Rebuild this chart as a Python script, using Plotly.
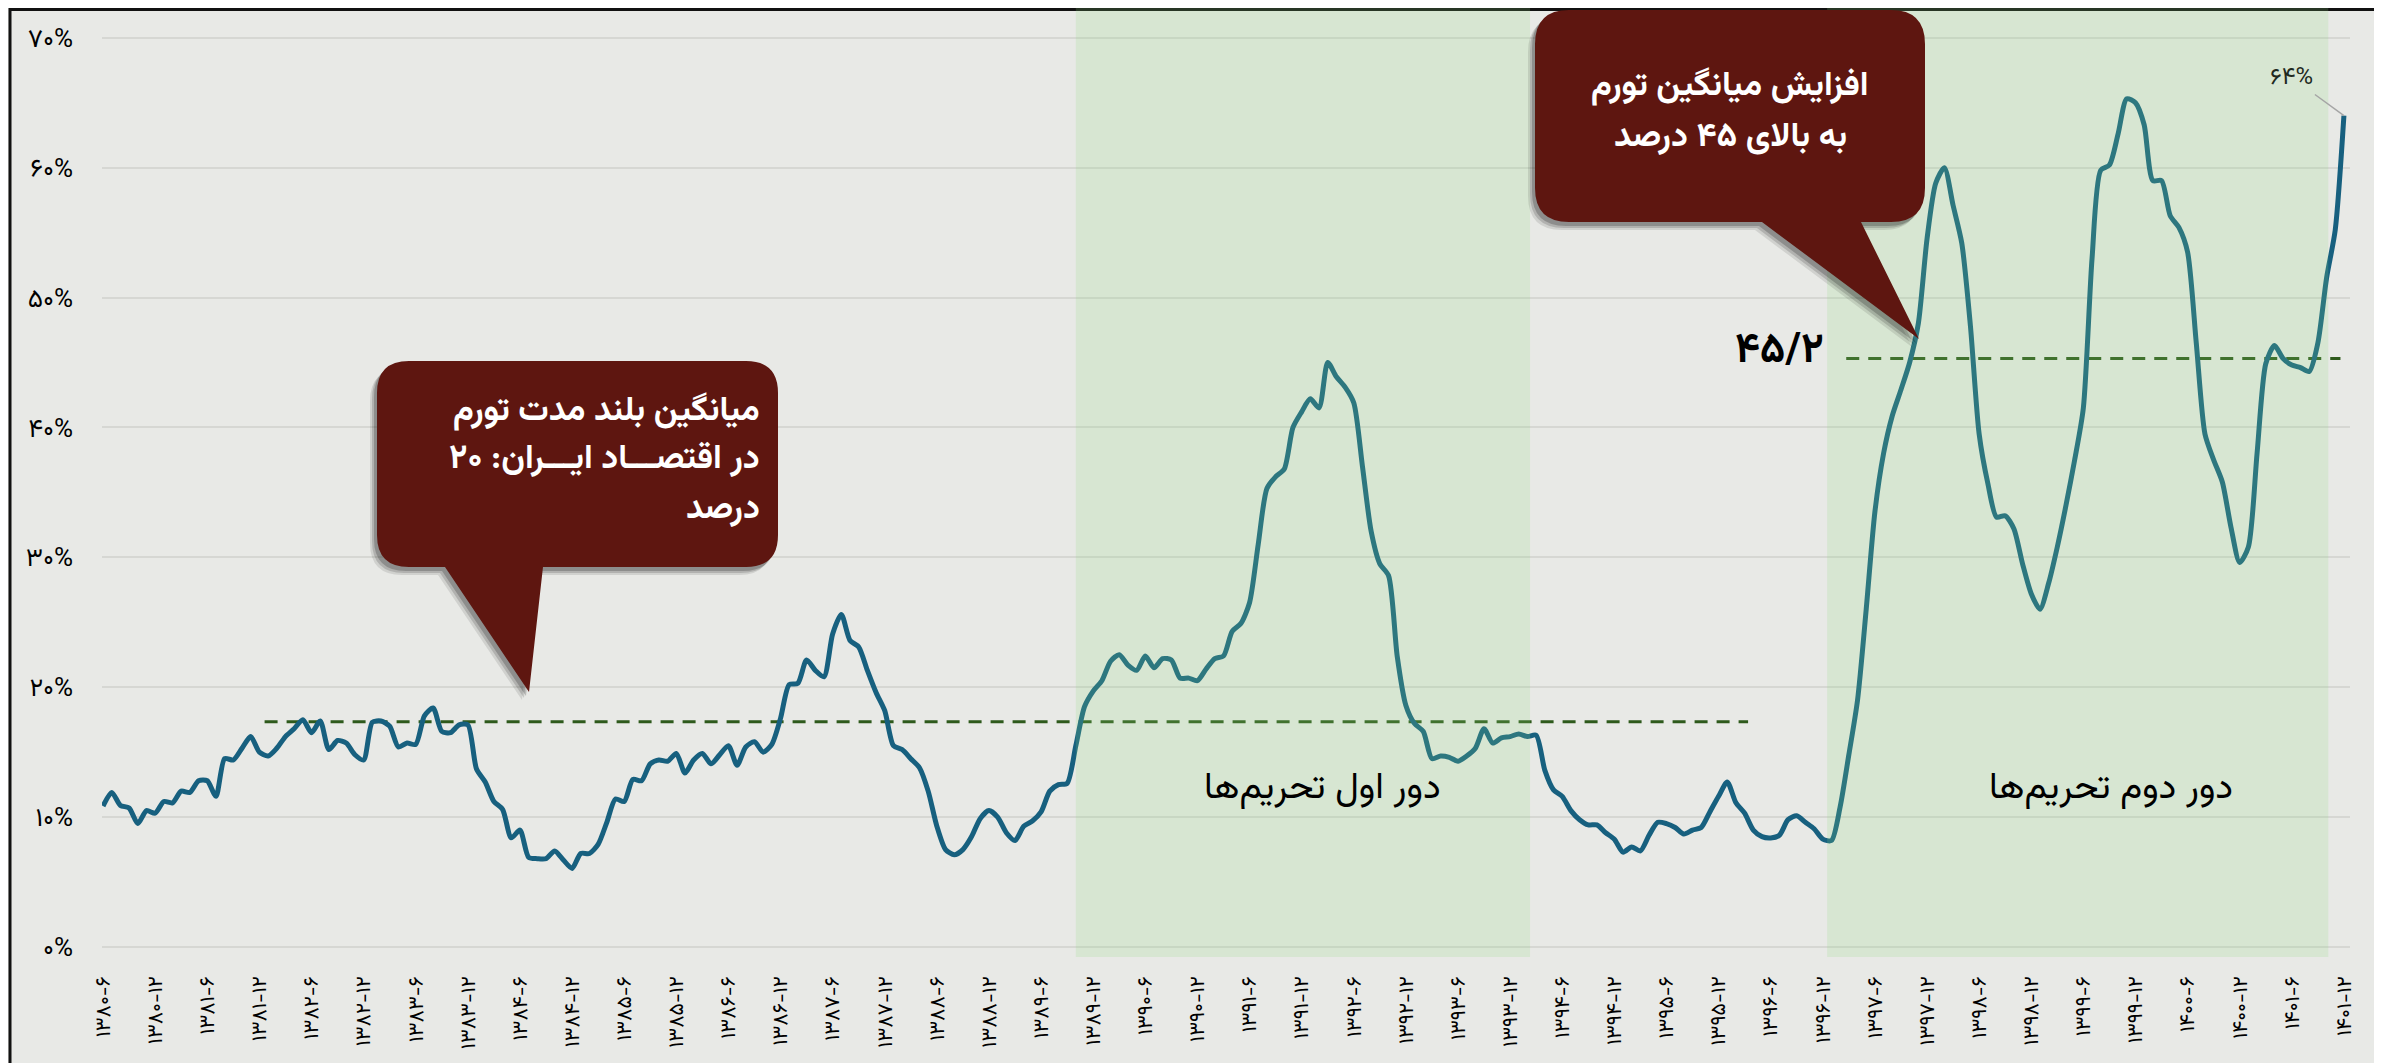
import plotly.graph_objects as go

# monthly inflation (%), first point = 1380-6
rates_1380_1385 = [
    10.85, 11.9, 10.9, 10.7, 9.5, 10.5, 10.3, 11.2, 11.1, 12.0,
    11.9, 12.8, 12.8, 11.6, 14.5, 14.4, 15.3, 16.2, 15.0, 14.7,
    15.3, 16.2, 16.8, 17.5, 16.5, 17.4, 15.2, 15.9, 15.7, 14.8,
    14.4, 17.3, 17.4, 17.0, 15.4, 15.7, 15.6, 17.8, 18.4, 16.6,
    16.5, 17.1, 17.1, 13.7, 12.7, 11.2, 10.6, 8.4, 9.0, 6.9,
    6.8, 6.8, 7.4, 6.7, 6.05, 7.2, 7.2, 7.9, 9.6, 11.4,
    11.2, 12.9, 12.8, 14.1, 14.4,
]
rates_1385_1391 = [
    14.3, 14.9, 13.4, 14.4, 14.9, 14.1, 14.8, 15.5, 14.0, 15.4,
    15.8, 15.0, 15.6, 17.6, 20.2, 20.3, 22.1, 21.3, 20.8, 24.1,
    25.6, 23.6, 23.1, 21.3, 19.6, 18.2, 15.5, 15.2, 14.5, 13.8,
    12.0, 9.3, 7.5, 7.1, 7.5, 8.5, 9.9, 10.5, 10.0, 8.8,
    8.2, 9.3, 9.7, 10.4, 12.0, 12.5, 12.6, 15.5, 18.5, 19.7,
    20.5, 22.0, 22.5, 21.7, 21.3, 22.4, 21.5, 22.2, 22.1, 20.7,
    20.7, 20.5, 21.4, 22.2,
]
rates_1391_1397 = [
    22.4, 24.3, 24.9, 26.5, 31.0, 35.3, 36.2, 36.8, 40.0, 41.2,
    42.2, 41.5, 45.0, 43.9, 43.1, 41.9, 37.0, 32.0, 29.5, 28.6,
    22.4, 18.6, 17.2, 16.6, 14.5, 14.7, 14.6, 14.3, 14.7, 15.3,
    16.8, 15.7, 16.1, 16.2, 16.4, 16.2, 16.3, 13.6, 12.1, 11.6,
    10.5, 9.8, 9.4, 9.4, 8.8, 8.3, 7.3, 7.7, 7.4, 8.6,
    9.6, 9.5, 9.2, 8.7, 9.0, 9.2, 10.4, 11.6, 12.7, 11.1,
    10.3, 9.0, 8.5, 8.4, 8.6, 9.8, 10.1, 9.6, 9.1, 8.3,
    8.2, 10.8,
]
rates_1397_1401 = [
    14.8, 19.0, 26.0, 33.5, 38.0, 40.9, 42.9, 45.0, 48.0, 54.5,
    58.8, 60.0, 57.1, 54.2, 47.8, 39.5, 35.7, 33.1, 33.2, 32.2,
    29.5, 27.2, 26.0, 28.0, 30.8, 34.0, 37.5, 41.5, 53.0, 59.8,
    60.2, 62.6, 65.3, 65.0, 63.3, 59.0, 59.0, 56.3, 55.4, 53.5,
    46.5, 39.5, 37.5, 35.8, 32.3, 29.6, 30.8, 38.0, 44.9, 46.3,
    45.3, 44.8, 44.6, 44.3, 46.5, 51.5, 55.2, 64.0,
]
inflation = rates_1380_1385 + rates_1385_1391 + rates_1391_1397 + rates_1397_1401
months = list(range(len(inflation)))

x_labels = [
    "۱۳۸۰-۶", "۱۳۸۰-۱۲", "۱۳۸۱-۶", "۱۳۸۱-۱۲", "۱۳۸۲-۶", "۱۳۸۲-۱۲",
    "۱۳۸۳-۶", "۱۳۸۳-۱۲", "۱۳۸۴-۶", "۱۳۸۴-۱۲", "۱۳۸۵-۶", "۱۳۸۵-۱۲",
    "۱۳۸۶-۶", "۱۳۸۶-۱۲", "۱۳۸۷-۶", "۱۳۸۷-۱۲", "۱۳۸۸-۶", "۱۳۸۸-۱۲",
    "۱۳۸۹-۶", "۱۳۸۹-۱۲", "۱۳۹۰-۶", "۱۳۹۰-۱۲", "۱۳۹۱-۶", "۱۳۹۱-۱۲",
    "۱۳۹۲-۶", "۱۳۹۲-۱۲", "۱۳۹۳-۶", "۱۳۹۳-۱۲", "۱۳۹۴-۶", "۱۳۹۴-۱۲",
    "۱۳۹۵-۶", "۱۳۹۵-۱۲", "۱۳۹۶-۶", "۱۳۹۶-۱۲", "۱۳۹۷-۶", "۱۳۹۷-۱۲",
    "۱۳۹۸-۶", "۱۳۹۸-۱۲", "۱۳۹۹-۶", "۱۳۹۹-۱۲", "۱۴۰۰-۶", "۱۴۰۰-۱۲",
    "۱۴۰۱-۶", "۱۴۰۱-۱۲",
]
x_ticks = months[::6]
y_ticks = [0, 10, 20, 30, 40, 50, 60, 70]
y_labels = ["۰%", "۱۰%", "۲۰%", "۳۰%", "۴۰%", "۵۰%", "۶۰%", "۷۰%"]

# reference levels and periods (in month index)
long_avg = 17.35
long_avg_span = [18.6, 189.4]
recent_avg = 45.3
recent_avg_span = [200.7, 257.6]
sanctions_1 = [112, 164.3]
sanctions_2 = [198.5, 256.2]

# page has an 8px body margin: the figure is laid out in page pixels minus that
OFF = 8
W, H = 2382 - OFF, 1063 - OFF
PL, PR, PT, PB = 102, 2350, 8, 957   # plot area in page pixels
FONT = "Vazirmatn, DejaVu Sans, sans-serif"
BUBBLE = "#5e1610"


def px(x):
    return (x - PL) / (PR - PL)


def py(y):
    return (PB - y) / (PB - PT)


def bubble_path(l, t, r, b, rad, base0, base1, tip, dx=0, dy=0):
    l, r, base0, base1 = l + dx, r + dx, base0 + dx, base1 + dx
    t, b = t + dy, b + dy
    tip = (tip[0] + dx, tip[1] + dy)

    def p(x, y):
        return f"{px(x):.5f},{py(y):.5f}"

    s = f"M {p(l + rad, t)} L {p(r - rad, t)} Q {p(r, t)} {p(r, t + rad)} "
    s += f"L {p(r, b - rad)} Q {p(r, b)} {p(r - rad, b)} "
    s += f"L {p(base1, b)} L {p(tip[0], tip[1])} L {p(base0, b)} "
    s += f"L {p(l + rad, b)} Q {p(l, b)} {p(l, b - rad)} "
    s += f"L {p(l, t + rad)} Q {p(l, t)} {p(l + rad, t)} Z"
    return s


fig = go.Figure()

fig.add_trace(go.Scatter(
    x=months,
    y=inflation,
    mode="lines",
    line=dict(color="#17607f", width=5, shape="spline", smoothing=0.7),
    hoverinfo="skip",
    showlegend=False,
))

shapes = []
# average lines
for level, span in ((long_avg, long_avg_span), (recent_avg, recent_avg_span)):
    shapes.append(dict(type="line", xref="x", yref="y", layer="between",
                       x0=span[0], x1=span[1], y0=level, y1=level,
                       line=dict(color="#2e5a1c", width=3, dash="13px,9px")))

# frame
shapes.append(dict(type="path", xref="paper", yref="paper", layer="above",
                   path=f"M {px(10)},{py(1070)} L {px(10)},{py(9.5)} L {px(2377)},{py(9.5)} L {px(2377)},{py(1070)}",
                   line=dict(color="#111111", width=3)))

# sanction periods (overlay tints the line)
for span in (sanctions_1, sanctions_2):
    shapes.append(dict(type="rect", xref="x", yref="paper", layer="above",
                       x0=span[0], x1=span[1], y0=0, y1=1,
                       fillcolor="rgba(143,217,125,0.19)", line=dict(width=0)))

# speech bubbles with soft shadow
bubbles = [
    (377, 361, 778, 567, 32, 445, 543, (529, 692)),
    (1535, 10, 1925, 222, 34, 1762, 1861, (1919, 339)),
]
for bb in bubbles:
    for (sx, sy, op) in ((-7, 8, 0.10), (-5, 6, 0.15), (-3, 4, 0.2)):
        shapes.append(dict(type="path", xref="paper", yref="paper", layer="above",
                           path=bubble_path(*bb, dx=sx, dy=sy),
                           fillcolor=f"rgba(0,0,0,{op})", line=dict(width=0)))
    shapes.append(dict(type="path", xref="paper", yref="paper", layer="above",
                       path=bubble_path(*bb), fillcolor=BUBBLE, line=dict(width=0)))

bubble_font = dict(family=FONT, size=34, color="white", weight="bold")
annotations = []
for txt, yy in (("میانگین بلند مدت تورم", 411), ("در اقتصـــاد ایـــران: ۲۰", 460), ("درصد", 509)):
    annotations.append(dict(xref="paper", yref="paper", x=px(762), y=py(yy),
                            xanchor="right", yanchor="middle", text=txt,
                            showarrow=False, font=bubble_font))
for txt, yy in (("افزایش میانگین تورم", 87), ("به بالای ۴۵ درصد", 137)):
    annotations.append(dict(xref="paper", yref="paper", x=px(1730), y=py(yy),
                            xanchor="center", yanchor="middle", text=txt,
                            showarrow=False, font=bubble_font))

annotations += [
    dict(xref="paper", yref="paper", x=px(1779), y=py(352), xanchor="center", yanchor="middle",
         text="۴۵/۲", showarrow=False,
         font=dict(family=FONT, size=42, color="black", weight="bold")),
    dict(xref="paper", yref="paper", x=px(1322), y=py(789), xanchor="center", yanchor="middle",
         text="دور اول تحریم‌ها", showarrow=False,
         font=dict(family=FONT, size=37, color="black")),
    dict(xref="paper", yref="paper", x=px(2111), y=py(789), xanchor="center", yanchor="middle",
         text="دور دوم تحریم‌ها", showarrow=False,
         font=dict(family=FONT, size=37, color="black")),
    dict(xref="x", yref="y", x=months[-1], y=inflation[-1],
         text="۶۴%", showarrow=True, arrowhead=0, arrowwidth=1.5, arrowcolor="#a5a5a5",
         ax=-52, ay=-38, standoff=0,
         font=dict(family=FONT, size=24, color="#1f2a1f")),
]

fig.update_layout(
    width=W,
    height=H,
    margin=dict(l=PL - OFF, r=(W + OFF) - PR, t=PT - OFF, b=(H + OFF) - PB, pad=0),
    paper_bgcolor="#e8e9e6",
    plot_bgcolor="#e8e9e6",
    shapes=shapes,
    annotations=annotations,
    showlegend=False,
    xaxis=dict(
        range=[-0.12, 258.7],
        automargin=False,
        tickmode="array",
        tickvals=x_ticks,
        ticktext=x_labels,
        tickangle=-90,
        tickfont=dict(family=FONT, size=21, color="black"),
        ticklabelstandoff=14,
        showgrid=False,
        zeroline=False,
        showline=False,
        ticks="",
    ),
    yaxis=dict(
        range=[-0.77, 72.29],
        automargin=False,
        tickmode="array",
        tickvals=y_ticks,
        ticktext=y_labels,
        tickfont=dict(family=FONT, size=26, color="black"),
        ticklabelstandoff=28,
        showgrid=True,
        gridcolor="#d6d7d3",
        gridwidth=2,
        zeroline=False,
        showline=False,
        ticks="",
    ),
)

fig.write_html("out.html")
